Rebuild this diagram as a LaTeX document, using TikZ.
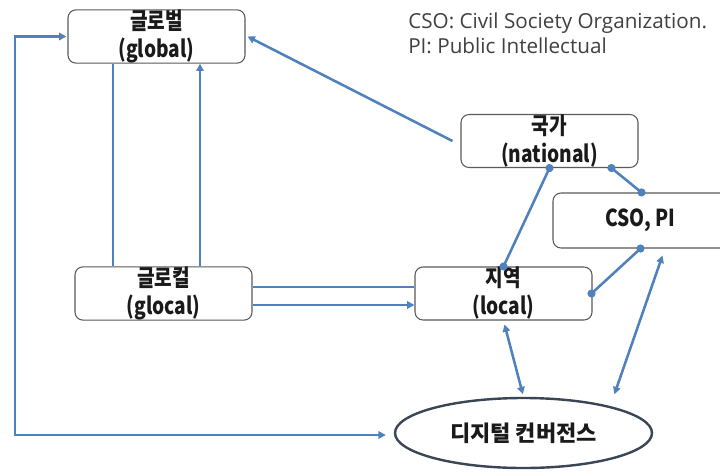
\documentclass[tikz,border=0pt]{standalone}
\usepackage{fontspec}
\newfontfamily\kr[FakeStretch=0.82]{Noto Sans CJK KR}
\newfontfamily\krwide{Noto Sans CJK KR}
\newfontfamily\leg{Open Sans}
\usetikzlibrary{arrows.meta,shapes.geometric,calc}
\definecolor{linkblue}{HTML}{4F81BD}
\definecolor{boxedge}{HTML}{5A5A5A}
\definecolor{ovaledge}{HTML}{3A4555}
\definecolor{legtext}{HTML}{404040}
\definecolor{labeltext}{HTML}{1A1A1A}
\tikzset{
  levelbox/.style={draw=boxedge, line width=0.8pt, rounded corners=6pt, fill=white,
    minimum width=132.75pt, minimum height=39.75pt, align=center, text=labeltext,
    font=\kr\bfseries\fontsize{17.5}{21}\selectfont, inner sep=0pt},
  ovalbox/.style={ellipse, draw=ovaledge, line width=1.8pt, fill=white,
    minimum width=192.75pt, minimum height=52.5pt, inner sep=0pt, text=labeltext,
    font=\krwide\bfseries\fontsize{16.5}{18}\selectfont},
  link/.style={draw=linkblue, line width=1.9pt},
  arr/.style={link, -{Triangle[length=5.5pt,width=5.5pt]}},
  biarr/.style={link, {Triangle[length=5.5pt,width=5.5pt]}-{Triangle[length=5.5pt,width=5.5pt]}},
  dotlink/.style={link, {Circle[length=6pt]}-{Circle[length=6pt]}, shorten <=-3pt, shorten >=-3pt},
}
\begin{document}
\begin{tikzpicture}[x=0.75pt, y=-0.75pt]
\useasboundingbox (0,0) rectangle (720,471);
\clip (0,0) rectangle (720,471);
\fill[white] (0,0) rectangle (720,471);

% legend
\node[anchor=west, font=\leg\fontsize{15.5}{19}\selectfont, text=legtext, align=left, inner sep=0pt]
  (legend) at (408,33) {CSO: Civil Society Organization.\\PI: Public Intellectual};

% levels
\node[levelbox] (global)   at (156.5,36.5) {글로벌\\(global)};
\node[levelbox] (glocal)   at (163.5,293.5) {글로컬\\(glocal)};
\node[levelbox] (local)    at (503.5,293.5) {지역\\(local)};
\node[levelbox] (national) at (549.5,141) {국가\\(national)};
\node[levelbox, minimum width=131.25pt, minimum height=41.25pt] (cso) at (640.5,220.5) {CSO, PI};
\node[ovalbox] (digital) at (523.5,433) {디지털 컨버전스};

% helper points
\coordinate (loopTop) at (15,36.5);
\coordinate (loopBot) at (15,435);
\coordinate (vA) at (113,0);
\coordinate (vB) at (200,0);
\coordinate (hA) at (0,287);
\coordinate (hB) at (0,305);

% outer loop between global and digital convergence
\draw[biarr] ($(global.west)+(-1,0)$) -- (loopTop) -- (loopBot) -- ($(digital.west |- loopBot)+(-8,0)$);

% global <-> glocal
\draw[link] (global.south -| vA) -- (glocal.north -| vA);
\draw[arr] (glocal.north -| vB) -- (global.south -| vB);

% glocal <-> local
\draw[link] (glocal.east |- hA) -- (local.west |- hA);
\draw[arr] (glocal.east |- hB) -- (local.west |- hB);

% national -> global
\draw[arr] ($(national.west)+(-8,0)$) -- ($(global.east)+(2,0)$);

% dotted-end links
\draw[dotlink] (national.south) -- (local.north);
\draw[dotlink] ($(national.south)+(62,0)$) -- ($(cso.north)+(1,0)$);
\draw[dotlink] (cso.south) -- ($(local.east)+(-1,0)$);

% links to digital convergence
\draw[biarr, shorten <=3pt, shorten >=2pt] (local.south) -- (digital.north);
\draw[biarr, shorten >=2pt] ($(cso.south)+(22,7)$) -- ($(digital.north)+(90,0)$);
\end{tikzpicture}
\end{document}
